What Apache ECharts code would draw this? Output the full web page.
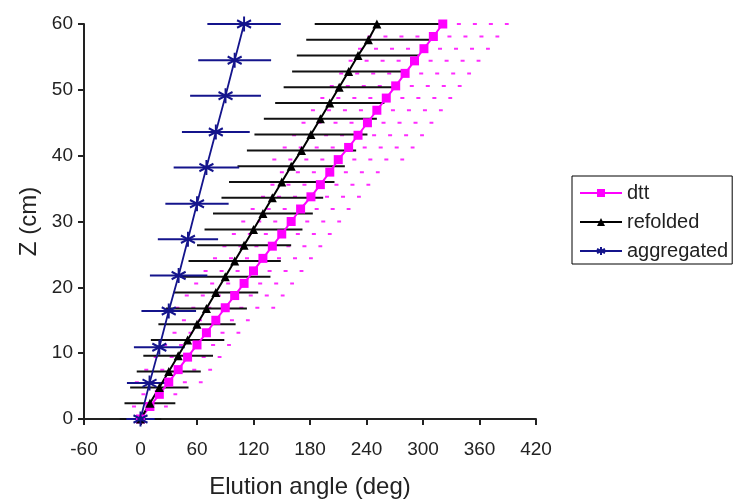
<!DOCTYPE html>
<html>
<head>
<meta charset="utf-8">
<script src="https://cdn.jsdelivr.net/npm/echarts@6/dist/echarts.min.js"></script>
<style>
  html, body { margin: 0; padding: 0; background: #ffffff; }
  #chart { width: 736px; height: 504px; }
</style>
</head>
<body>
<div id="chart"></div>
<script>
// Elution angle versus column height Z, with horizontal error bars.

const angleTicks = [-60, 0, 60, 120, 180, 240, 300, 360, 420];
const zTicks = [0, 10, 20, 30, 40, 50, 60];

// dtt
const dttZ = [0, 1.9, 3.75, 5.6, 7.5, 9.4, 11.25, 13.1, 15, 16.9, 18.75, 20.6, 22.5, 24.4, 26.25,
  28.1, 30, 31.9, 33.75, 35.6, 37.5, 39.4, 41.25, 43.1, 45, 46.9, 48.75, 50.6, 52.5, 54.4, 56.25, 58.1, 60];
const dttAngle = [0, 10, 20, 30, 40, 50, 60, 70, 80, 90, 100, 110, 120, 130, 140,
  150, 160, 170, 181, 191, 201, 210, 221, 231, 241, 251, 261, 271, 281, 291, 301, 311, 321];
const dttErr = [19, 19, 19, 36, 36, 36, 36, 36, 36, 53, 53, 53, 53, 53, 53,
  53, 53, 53, 53, 53, 53, 70, 70, 70, 70, 70, 70, 70, 70, 70, 70, 70, 70];

// refolded
const refoldedZ = [0, 2.4, 4.8, 7.2, 9.6, 12, 14.4, 16.8, 19.2, 21.6, 24, 26.4, 28.8,
  31.2, 33.6, 36, 38.4, 40.8, 43.2, 45.6, 48, 50.4, 52.8, 55.2, 57.6, 60];
const refoldedAngle = [0, 10, 20, 30, 40, 50, 60, 70, 80, 90, 100, 110, 120,
  130, 140, 150, 160, 171, 181, 191, 201, 211, 221, 231, 242, 251];
const refoldedErr = [22, 27, 31, 34, 37, 39, 41, 43, 45, 48, 49, 50, 52,
  53, 54, 56, 57, 58, 60, 60, 58, 59, 60, 65, 66, 66];

// aggregated
const aggregatedZ = [0, 5.45, 10.9, 16.4, 21.8, 27.3, 32.7, 38.2, 43.6, 49.1, 54.5, 60];
const aggregatedAngle = [0, 9.6, 20, 30, 40.5, 50.4, 60, 70, 80, 90.3, 100, 110];
const aggregatedErr = [15, 24, 27, 29, 30.5, 32, 33.6, 34.8, 36, 37.6, 38.7, 39];

const FONT = '"Liberation Sans", Arial, sans-serif';
const MAGENTA = '#ff00ff';
const BLACK = '#000000';
const NAVY = '#14148c';
const STAR = 'path://M10 0L10 20M1.34 5L18.66 15M1.34 15L18.66 5';

function points(angles, zs) {
  return angles.map((a, i) => [a, zs[i]]);
}
function errItems(angles, zs, errs) {
  return angles.map((a, i) => [a, zs[i], errs[i]]);
}
function errorBars(color, width, dash) {
  return function (params, api) {
    const a = api.value(0), z = api.value(1), e = api.value(2);
    const p1 = api.coord([a - e, z]);
    const p2 = api.coord([a + e, z]);
    return {
      type: 'line',
      shape: { x1: p1[0], y1: p1[1], x2: p2[0], y2: p2[1] },
      style: { stroke: color, lineWidth: width, lineDash: dash || null, lineCap: 'butt' }
    };
  };
}

const chart = echarts.init(document.getElementById('chart'), null, { renderer: 'canvas' });

chart.setOption({
  animation: false,
  backgroundColor: '#ffffff',
  grid: { left: 84, right: 200, top: 24, bottom: 79 },
  legend: {
    orient: 'vertical',
    left: 572,
    top: 176,
    data: ['dtt', 'refolded', 'aggregated'],
    itemWidth: 42,
    itemHeight: 10,
    itemGap: 9,
    padding: [7, 4, 3, 7],
    borderColor: '#000000',
    borderWidth: 1,
    borderRadius: 0,
    textStyle: { fontSize: 20, color: '#222222', fontFamily: FONT }
  },
  xAxis: {
    type: 'value',
    min: angleTicks[0],
    max: angleTicks[angleTicks.length - 1],
    interval: angleTicks[1] - angleTicks[0],
    name: 'Elution angle (deg)',
    nameLocation: 'middle',
    nameGap: 56,
    nameTextStyle: { fontSize: 24, color: '#222222', fontFamily: FONT },
    axisLine: { onZero: false, lineStyle: { color: '#222222', width: 2 } },
    axisTick: { show: true, length: 6, lineStyle: { color: '#222222', width: 2 } },
    splitLine: { show: false },
    axisLabel: { margin: 21, fontSize: 19, color: '#222222', fontFamily: FONT }
  },
  yAxis: {
    type: 'value',
    min: zTicks[0],
    max: zTicks[zTicks.length - 1],
    interval: zTicks[1] - zTicks[0],
    name: 'Z (cm)',
    nameLocation: 'middle',
    nameGap: 43,
    nameTextStyle: { fontSize: 24, color: '#222222', fontFamily: FONT },
    axisLine: { onZero: false, lineStyle: { color: '#222222', width: 2 } },
    axisTick: { show: true, length: 6, lineStyle: { color: '#222222', width: 2 } },
    splitLine: { show: false },
    axisLabel: { margin: 11, fontSize: 19, color: '#222222', fontFamily: FONT }
  },
  series: [
    {
      type: 'custom',
      name: 'dtt error',
      silent: true,
      encode: { x: 0, y: 1 },
      renderItem: errorBars('#ff2bff', 2, [4, 12]),
      data: errItems(dttAngle, dttZ, dttErr)
    },
    {
      type: 'line',
      name: 'dtt',
      data: points(dttAngle, dttZ),
      symbol: 'rect',
      symbolSize: 9,
      showAllSymbol: true,
      lineStyle: { color: MAGENTA, width: 2 },
      itemStyle: { color: MAGENTA }
    },
    {
      type: 'custom',
      name: 'refolded error',
      silent: true,
      encode: { x: 0, y: 1 },
      renderItem: errorBars('#111111', 2),
      data: errItems(refoldedAngle, refoldedZ, refoldedErr)
    },
    {
      type: 'line',
      name: 'refolded',
      data: points(refoldedAngle, refoldedZ),
      symbol: 'triangle',
      symbolSize: 9,
      showAllSymbol: true,
      lineStyle: { color: BLACK, width: 2 },
      itemStyle: { color: BLACK }
    },
    {
      type: 'custom',
      name: 'aggregated error',
      silent: true,
      encode: { x: 0, y: 1 },
      renderItem: errorBars(NAVY, 2),
      data: errItems(aggregatedAngle, aggregatedZ, aggregatedErr)
    },
    {
      type: 'line',
      name: 'aggregated',
      data: points(aggregatedAngle, aggregatedZ),
      symbol: STAR,
      symbolSize: [14, 15],
      showAllSymbol: true,
      lineStyle: { color: NAVY, width: 1.8 },
      itemStyle: { color: NAVY, borderColor: NAVY, borderWidth: 2 }
    }
  ]
});
</script>
</body>
</html>
